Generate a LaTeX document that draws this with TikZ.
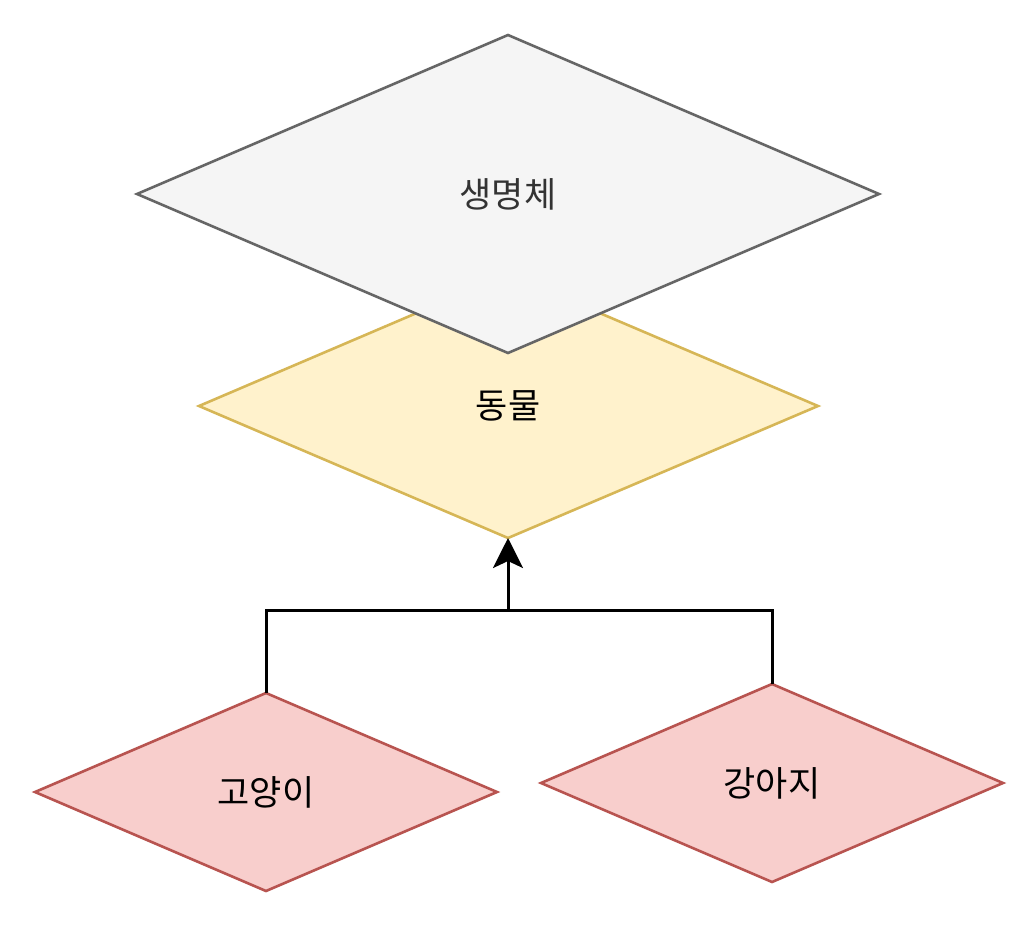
\documentclass[tikz,border=0pt]{standalone}
\usepackage{fontspec}
\newfontfamily\kr{Noto Sans CJK KR}
\usetikzlibrary{arrows.meta}
\definecolor{grayfill}{HTML}{F5F5F5}
\definecolor{graystroke}{HTML}{666666}
\definecolor{yelfill}{HTML}{FFF2CC}
\definecolor{yelstroke}{HTML}{D6B656}
\definecolor{redfill}{HTML}{F8CECC}
\definecolor{redstroke}{HTML}{B85450}
\definecolor{txtgray}{HTML}{333333}
\begin{document}
\begin{tikzpicture}[x=1pt,y=-1pt,
  dia/.style={line width=2.6pt, line join=miter},
  lbl/.style={font=\kr\fontsize{35}{40}\selectfont, inner sep=0pt},
  conn/.style={line width=3pt, -{Stealth[length=30pt,width=30pt,inset=7pt]}}]
\useasboundingbox (0,0) rectangle (1024,946);
% 동물
\draw[dia, fill=yelfill, draw=yelstroke] (508,274) -- (818,406) -- (508,538) -- (199,406) -- cycle;
\node[lbl] (animal) at (508,406) {동물};
\coordinate (animalB) at (508,538);
% 생명체
\draw[dia, fill=grayfill, draw=graystroke] (508,35) -- (879,194) -- (508,353) -- (137,194) -- cycle;
\node[lbl, text=txtgray] (life) at (508,194) {생명체};
% 고양이
\draw[dia, fill=redfill, draw=redstroke] (266,693) -- (497,792) -- (266,891) -- (35,792) -- cycle;
\node[lbl] (cat) at (266,792) {고양이};
\coordinate (catT) at (266,693);
% 강아지
\draw[dia, fill=redfill, draw=redstroke] (772,684) -- (1003,783) -- (772,882) -- (541,783) -- cycle;
\node[lbl] (dog) at (772,783) {강아지};
\coordinate (dogT) at (772,684);
% connectors
\coordinate (mid) at (508,610);
\draw[line width=3pt] (dogT) |- (mid);
\draw[conn] (catT) |- (mid) -- (animalB);
\end{tikzpicture}
\end{document}
